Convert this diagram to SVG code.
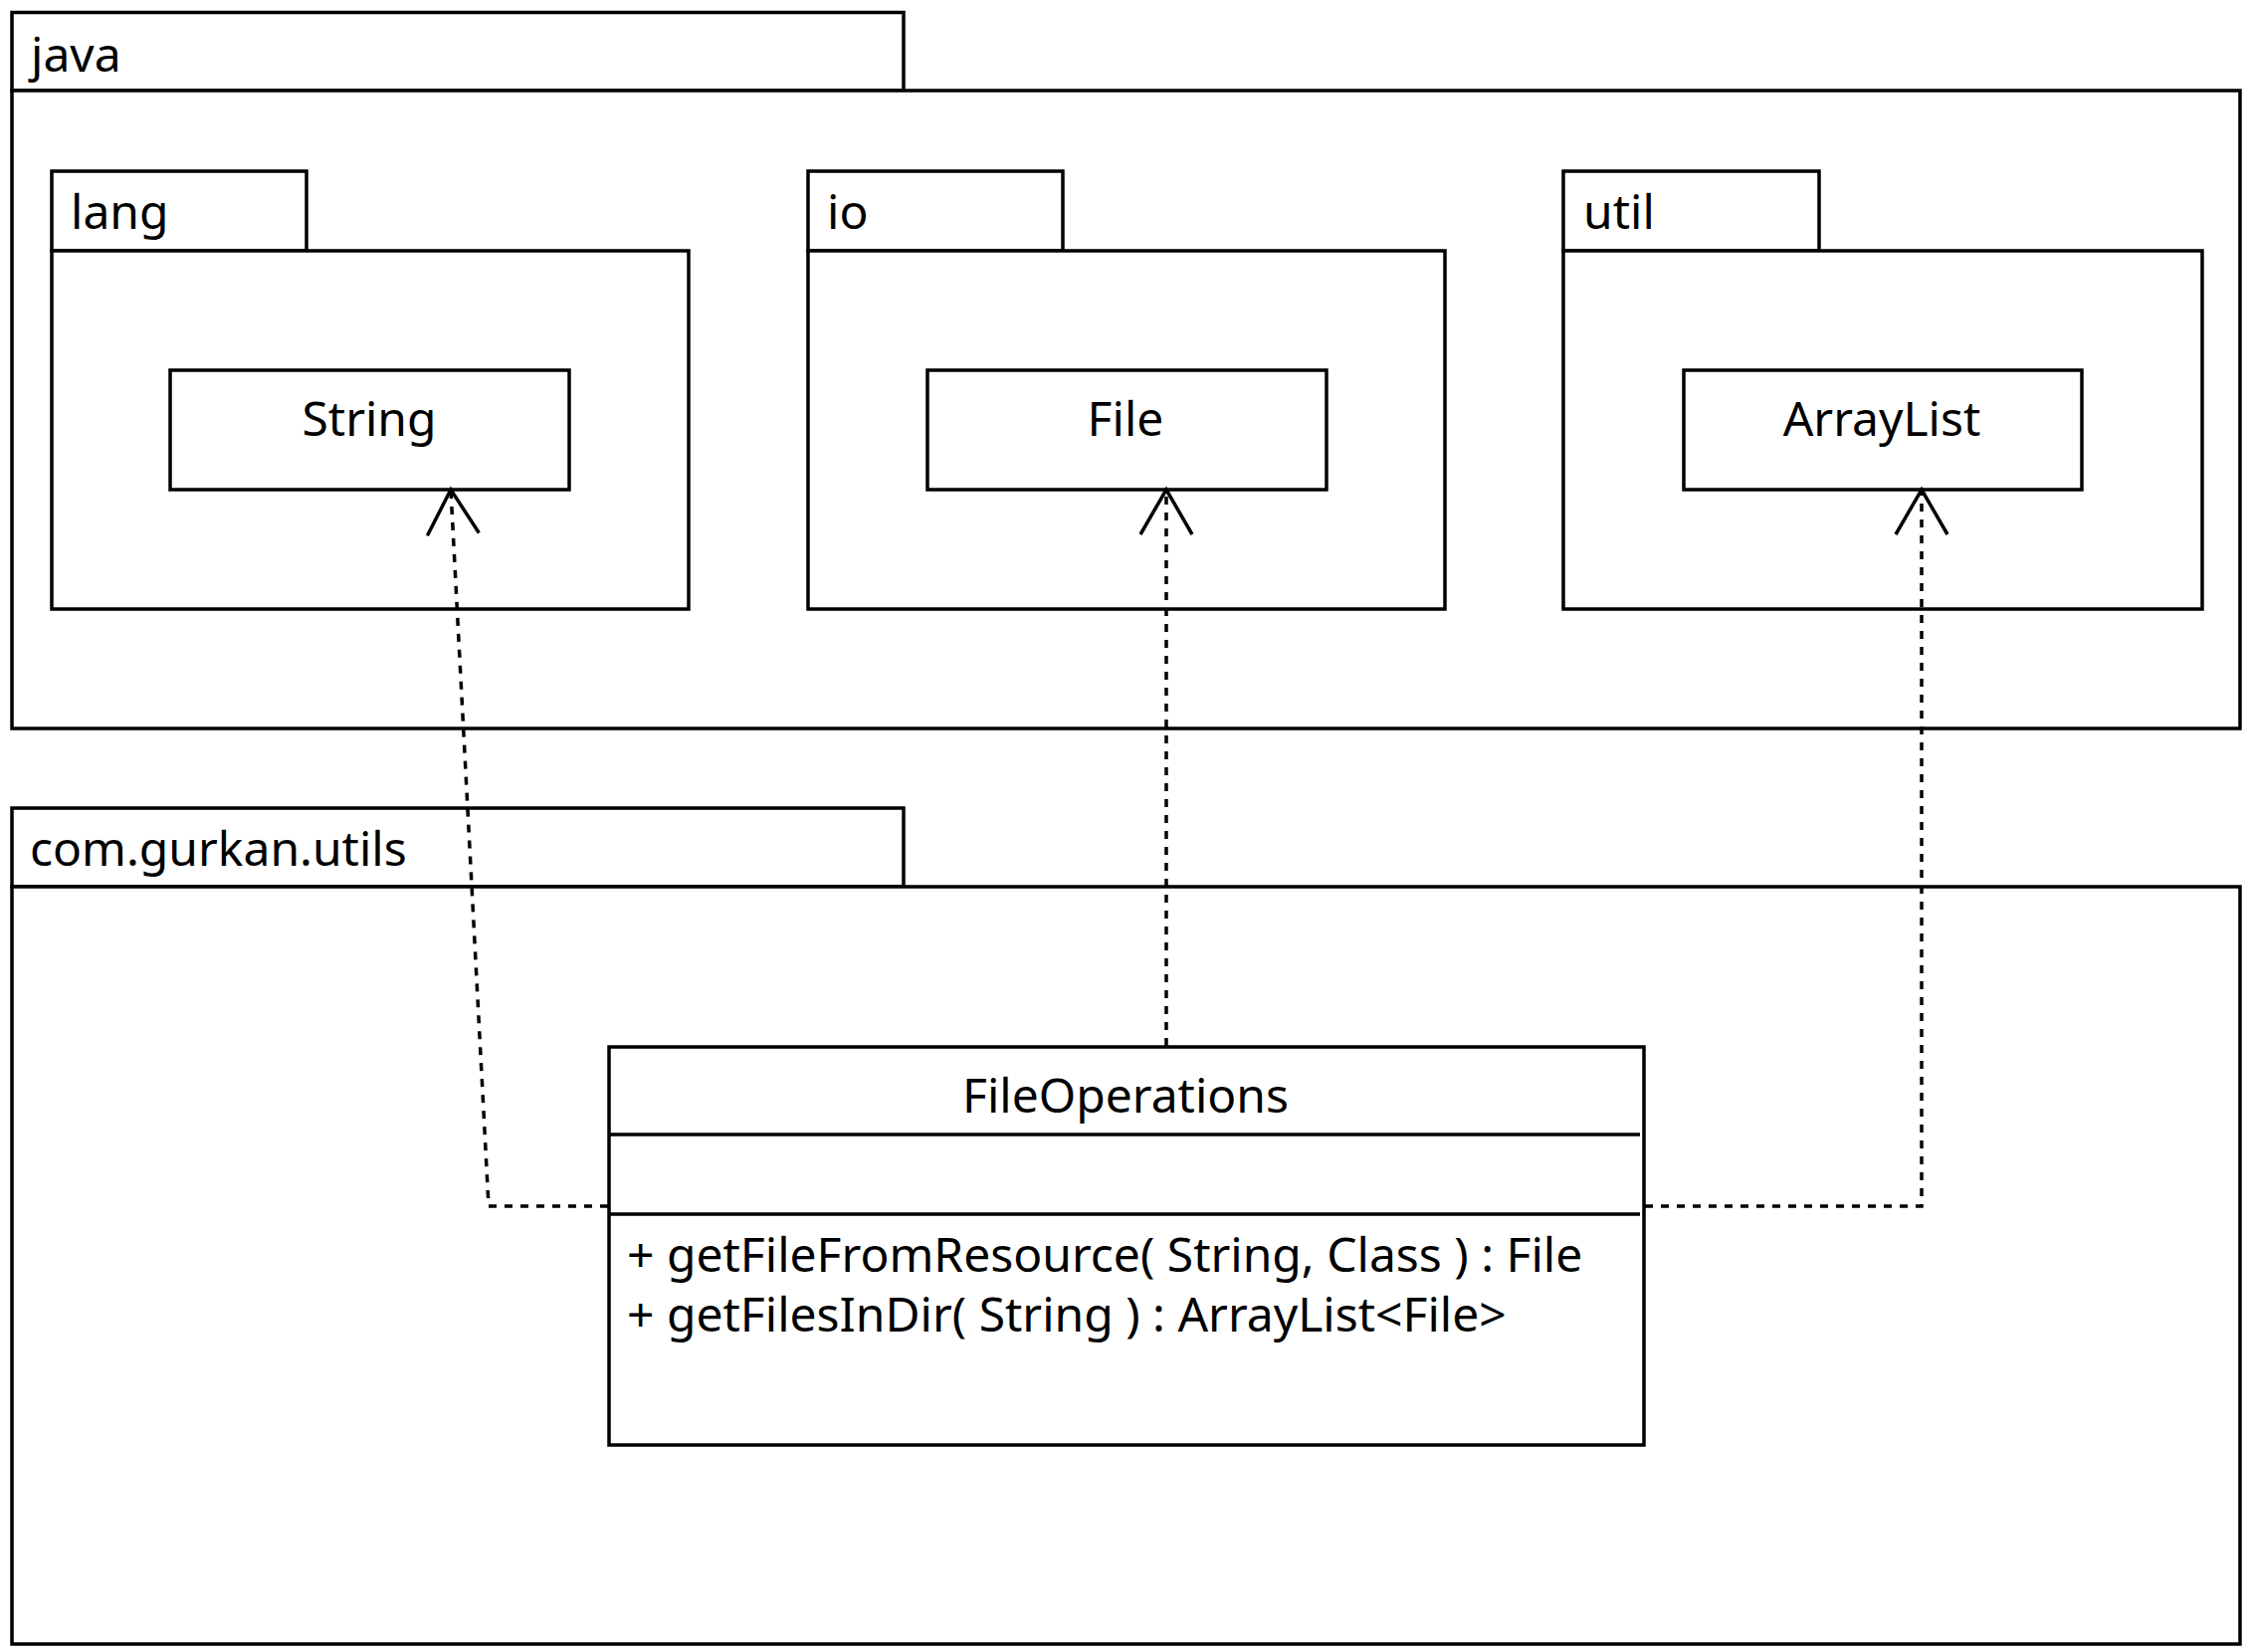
<svg xmlns="http://www.w3.org/2000/svg" width="2260" height="1660" viewBox="0 0 2260 1660">
<defs>
<style>
.pk{fill:#fff;stroke:#000;stroke-width:3.5}
.box{fill:#fff;stroke:#000;stroke-width:3.5}
.ln{stroke:#000;stroke-width:3.5;fill:none}
.t{font-family:"Noto Sans","Open Sans","DejaVu Sans",sans-serif;font-size:48px;fill:#000}
.c{text-anchor:middle}
.dep{fill:none;stroke:#000;stroke-width:3.5;stroke-dasharray:8 8}
</style>
<marker id="open" markerUnits="userSpaceOnUse" markerWidth="60" markerHeight="60" viewBox="-50 -30 60 60" refX="0" refY="0" orient="auto" overflow="visible">
<path d="M -45 -26 L 0 0 L -45 26" fill="none" stroke="#000" stroke-width="3.5" stroke-dasharray="none"/>
</marker>
</defs>
<rect width="2260" height="1660" fill="#fff"/>
<g id="pkg-java">
<rect class="pk" x="12" y="12.5" width="896" height="78.5"/>
<rect class="pk" x="12" y="91" width="2239" height="641"/>
<text class="t" x="31" y="72">java</text>
</g>
<g id="pkg-lang">
<rect class="pk" x="52" y="172" width="256" height="80"/>
<rect class="pk" x="52" y="252" width="640" height="360"/>
<text class="t" x="71" y="230">lang</text>
</g>
<g id="pkg-io">
<rect class="pk" x="812" y="172" width="256" height="80"/>
<rect class="pk" x="812" y="252" width="640" height="360"/>
<text class="t" x="831" y="230">io</text>
</g>
<g id="pkg-util">
<rect class="pk" x="1571" y="172" width="257" height="80"/>
<rect class="pk" x="1571" y="252" width="642" height="360"/>
<text class="t" x="1591" y="230">util</text>
</g>
<g id="cls-String">
<rect class="box" x="171" y="372" width="401" height="120"/>
<text class="t c" x="371" y="438">String</text>
</g>
<g id="cls-File">
<rect class="box" x="932" y="372" width="401" height="120"/>
<text class="t c" x="1131" y="438">File</text>
</g>
<g id="cls-ArrayList">
<rect class="box" x="1692" y="372" width="400" height="120"/>
<text class="t c" x="1891" y="438">ArrayList</text>
</g>
<g id="pkg-com.gurkan.utils">
<rect class="pk" x="12" y="812" width="896" height="79"/>
<rect class="pk" x="12" y="891" width="2239" height="761"/>
<text class="t" x="30" y="870">com.gurkan.utils</text>
</g>
<g id="cls-FileOperations">
<rect class="box" x="612" y="1052" width="1040" height="400"/>
<line class="ln" x1="612" y1="1140" x2="1648" y2="1140"/>
<line class="ln" x1="612" y1="1220" x2="1648" y2="1220"/>
<text class="t c" x="1131" y="1118">FileOperations</text>
<text class="t" x="630" y="1278">+ getFileFromResource( String, Class ) : File</text>
<text class="t" x="630" y="1338">+ getFilesInDir( String ) : ArrayList&lt;File&gt;</text>
</g>
<g id="connectors">
<path class="dep" d="M 611 1212 L 491 1212 L 453 492" marker-end="url(#open)"/>
<path class="dep" d="M 1172 1051 L 1172 492" marker-end="url(#open)"/>
<path class="dep" d="M 1653 1212 L 1931 1212 L 1931 492" marker-end="url(#open)"/>
</g>
</svg>
